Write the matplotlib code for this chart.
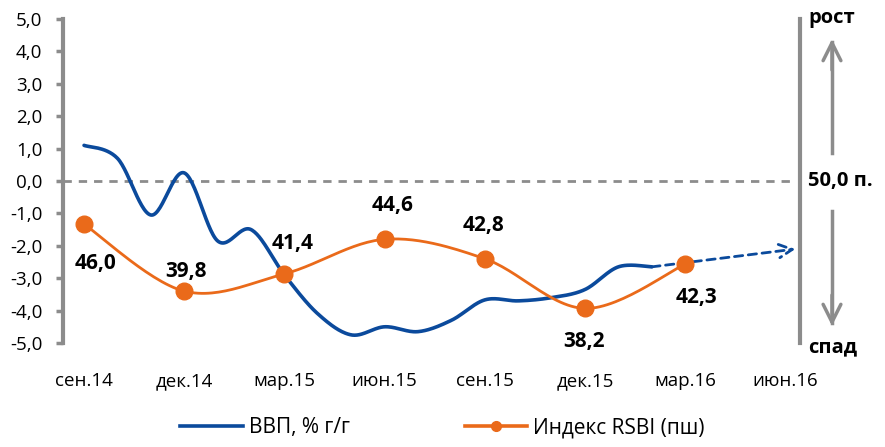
import numpy as np
import matplotlib.pyplot as plt

plt.rcParams['font.family'] = ['Open Sans', 'DejaVu Sans']

# months from сен.14 (0) ... ; quarterly tick labels
tick_labels = ['сен.14', 'дек.14', 'мар.15', 'июн.15', 'сен.15', 'дек.15', 'мар.16', 'июн.16']
tick_pos = [0, 3, 6, 9, 12, 15, 18, 21]

# GDP, % y/y, monthly (сен.14 .. фев.16)
gdp_x = list(range(18))
gdp = [1.1, 0.7, -1.05, 0.25, -1.85, -1.5, -2.9, -4.1, -4.75, -4.5, -4.65, -4.3,
       -3.67, -3.7, -3.6, -3.35, -2.65, -2.65]
gdp_trend_end = (21.3, -2.1)

# RSBI index (right axis), quarterly
rsbi_x = [0, 3, 6, 9, 12, 15, 18]
rsbi = [46.0, 39.8, 41.4, 44.6, 42.8, 38.2, 42.3]
rsbi_labels = ['46,0', '39,8', '41,4', '44,6', '42,8', '38,2', '42,3']
label_off = [(8, -28), (1, 14), (6, 22), (6, 24), (-1, 24), (-1, -24), (8, -24)]

blue = '#0b4a9c'
orange = '#ea6a1a'
gray = '#8c8c8c'


def smooth(x, y, n=30):
    # Excel-like smoothed line (bezier through points)
    x = np.asarray(x, float)
    y = np.asarray(y, float)
    px = np.concatenate([[x[0]], x, [x[-1]]])
    py = np.concatenate([[y[0]], y, [y[-1]]])
    xs, ys = [], []
    t = np.linspace(0, 1, n)
    for i in range(1, len(px) - 2):
        p0 = np.array([px[i], py[i]])
        p3 = np.array([px[i + 1], py[i + 1]])
        p1 = p0 + (np.array([px[i + 1], py[i + 1]]) - np.array([px[i - 1], py[i - 1]])) / 6
        p2 = p3 - (np.array([px[i + 2], py[i + 2]]) - np.array([px[i], py[i]])) / 6
        b = ((1 - t) ** 3)[:, None] * p0 + (3 * (1 - t) ** 2 * t)[:, None] * p1 \
            + (3 * (1 - t) * t ** 2)[:, None] * p2 + (t ** 3)[:, None] * p3
        xs.extend(b[:, 0])
        ys.extend(b[:, 1])
    return xs, ys


fig = plt.figure(figsize=(8.85, 4.47), dpi=100)
ax = fig.add_axes([0.0712, 0.2327, 0.8328, 0.7248])
ax2 = ax.twinx()

ax.set_xlim(-0.63, 21.44)
ax.set_ylim(-5, 5)
ax2.set_ylim(35, 65)

ax.axhline(0, color=gray, lw=2, ls=(0, (3, 2.5)), xmax=0.993, zorder=1)

sx, sy = smooth(gdp_x, gdp)
ax.plot(sx, sy, color=blue, lw=2.6, solid_capstyle='round', zorder=3)
ax.annotate('', xy=gdp_trend_end, xytext=(gdp_x[-1], gdp[-1]),
            arrowprops=dict(arrowstyle='->', color=blue, lw=2, ls=(0, (3, 2)),
                            mutation_scale=24, shrinkA=0, shrinkB=0), zorder=3)

rx, ry = smooth(rsbi_x, rsbi)
ax2.plot(rx, ry, color=orange, lw=2, zorder=4)
ax2.plot(rsbi_x, rsbi, 'o', color=orange, ms=12, zorder=5)
for x, v, lab, off in zip(rsbi_x, rsbi, rsbi_labels, label_off):
    ax2.annotate(lab, (x, v), xytext=off, textcoords='offset points',
                 ha='center', va='center', fontsize=15, fontweight='bold')

ax.set_yticks(np.arange(-5, 6, 1))
ax.set_yticklabels([f'{v:.1f}'.replace('.', ',') for v in np.arange(-5, 6, 1)])
ax.set_xticks(tick_pos)
ax.set_xticklabels(tick_labels)
ax.tick_params(axis='y', length=5, width=2.5, color=gray, labelsize=13.5, pad=10)
ax.tick_params(axis='x', length=0, labelsize=13.5, pad=21)
for s in ['top', 'bottom', 'right']:
    ax.spines[s].set_visible(False)
ax.spines['left'].set_color(gray)
ax.spines['left'].set_linewidth(3)
for s in ['top', 'bottom', 'left']:
    ax2.spines[s].set_visible(False)
ax2.spines['right'].set_color(gray)
ax2.spines['right'].set_linewidth(3)
ax2.set_yticks([])

# right-side legend of the index scale
fig.text(808 / 885, 1 - 18 / 447, 'рост', fontsize=14.5, fontweight='bold', va='center')
fig.text(808 / 885, 1 - 181 / 447, '50,0 п.', fontsize=14.5, fontweight='bold', va='center')
fig.text(808 / 885, 1 - 347 / 447, 'спад', fontsize=14.5, fontweight='bold', va='center')
fig.add_artist(plt.Line2D([832 / 885, 832 / 885], [1 - 153 / 447, 1 - 42 / 447], color=gray, lw=2.5))
fig.add_artist(plt.Line2D([832 / 885, 832 / 885], [1 - 211 / 447, 1 - 323 / 447], color=gray, lw=2.5))
ax.annotate('', xy=(832 / 885, 1 - 39 / 447), xytext=(832 / 885, 1 - 70 / 447), xycoords='figure fraction',
            arrowprops=dict(arrowstyle='->', color=gray, lw=2.5, mutation_scale=32, shrinkA=0, shrinkB=0))
ax.annotate('', xy=(832 / 885, 1 - 326 / 447), xytext=(832 / 885, 1 - 295 / 447), xycoords='figure fraction',
            arrowprops=dict(arrowstyle='->', color=gray, lw=2.5, mutation_scale=32, shrinkA=0, shrinkB=0))

h1 = plt.Line2D([], [], color=blue, lw=2.6)
h2 = plt.Line2D([], [], color=orange, lw=2.6, marker='o', ms=7)
fig.legend([h1, h2], ['ВВП, % г/г', 'Индекс RSBI (пш)'], loc='center', bbox_to_anchor=(0.5, 1 - 428 / 447),
           ncol=2, frameon=False, fontsize=15, columnspacing=5.5, handlelength=3, handletextpad=0.3)

fig.savefig('out.png', dpi=100)
